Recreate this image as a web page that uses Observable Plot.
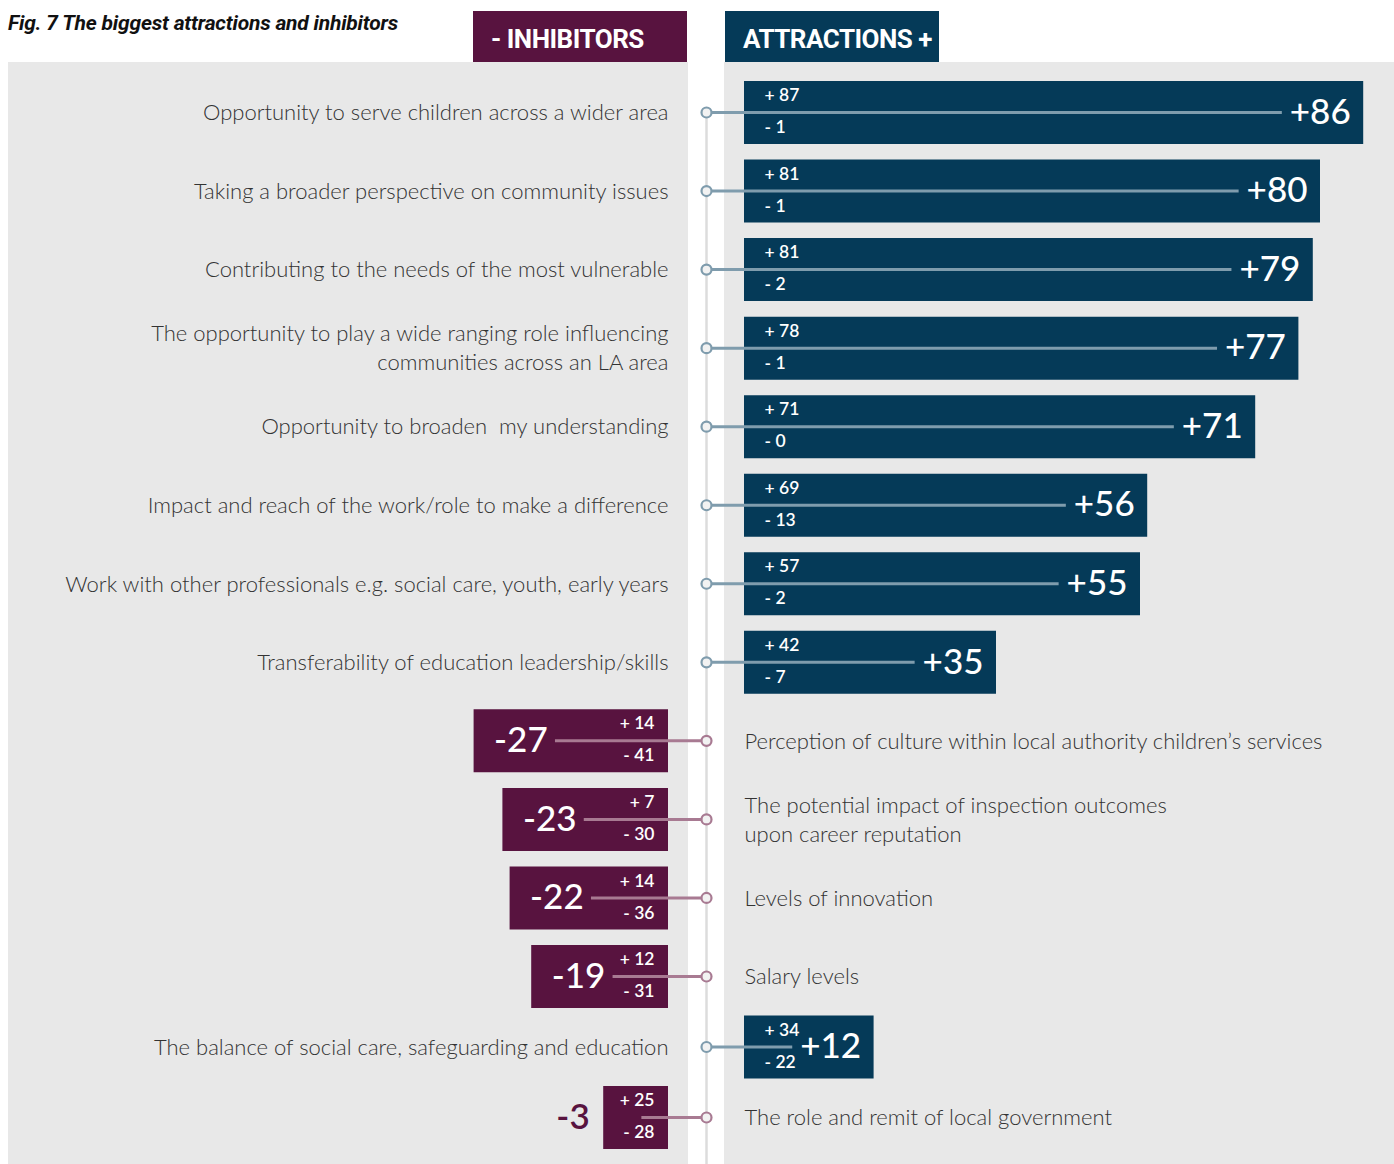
<!DOCTYPE html>
<html><head><meta charset="utf-8">
<script src="https://cdn.jsdelivr.net/npm/d3@7"></script>
<script src="https://cdn.jsdelivr.net/npm/@observablehq/plot@0.6"></script>
<style>
body{margin:0;background:#fff;width:1394px;height:1164px;position:relative;overflow:hidden;font-family:Lato,"Open Sans",sans-serif;}
.panel{position:absolute;background:#e8e8e8;top:62px;height:1102px;}
.title{position:absolute;left:8px;top:11px;font-family:"Liberation Sans Narrow","Roboto",sans-serif;font-style:italic;font-weight:bold;font-size:21px;letter-spacing:-0.2px;color:#111;}
.hdr{position:absolute;top:11px;height:51px;width:214px;color:#fff;font-family:"Liberation Sans Narrow","Roboto",sans-serif;font-weight:bold;font-size:26px;letter-spacing:-0.5px;line-height:56px;box-sizing:border-box;padding-left:18px;}
#chart{position:absolute;left:0;top:0;}
</style></head>
<body>
<div class="panel" style="left:8px;width:680px"></div>
<div class="panel" style="left:724px;width:670px"></div>
<div class="title">Fig. 7 The biggest attractions and inhibitors</div>
<div class="hdr" style="left:473px;background:#58133f">- INHIBITORS</div>
<div class="hdr" style="left:725px;background:#053a58">ATTRACTIONS +</div>
<div id="chart"></div>
<script>
const categories = [
  "Opportunity to serve children across a wider area",
  "Taking a broader perspective on community issues",
  "Contributing to the needs of the most vulnerable",
  "The opportunity to play a wide ranging role influencing\ncommunities across an LA area",
  "Opportunity to broaden  my understanding",
  "Impact and reach of the work/role to make a difference",
  "Work with other professionals e.g. social care, youth, early years",
  "Transferability of education leadership/skills",
  "Perception of culture within local authority children’s services",
  "The potential impact of inspection outcomes\nupon career reputation",
  "Levels of innovation",
  "Salary levels",
  "The balance of social care, safeguarding and education",
  "The role and remit of local government"
];
const plusVals  = [87, 81, 81, 78, 71, 69, 57, 42, 14, 7, 14, 12, 34, 25];
const minusVals = [1, 1, 2, 1, 0, 13, 2, 7, 41, 30, 36, 31, 22, 28];
const netVals   = [86, 80, 79, 77, 71, 56, 55, 35, -27, -23, -22, -19, 12, -3];

const NAVY = "#053a58", PURPLE = "#58133f";
const LINE_A = "#7f9cad", LINE_I = "#a87a92";
const W = 1394, H = 1164, unit = 7.2, axisX = 706;
const gap = 38 / unit;
const barH = 63;

const rows = categories.map((cat, i) => {
  const net = netVals[i], dir = net >= 0 ? 1 : -1, a = Math.abs(net);
  const inside = a >= 10;
  const len = inside ? Math.max(a, 18) : 9;
  const lineLen = inside ? gap + len - 11.3 : gap + len - 5.3;
  return {i, cat, plus: plusVals[i], minus: minusVals[i], net, dir, inside, len, lineLen};
});
const att = rows.filter(d => d.dir > 0), inh = rows.filter(d => d.dir < 0);
const fmtNet = v => (v > 0 ? "+" : "") + v;

const smallFont = {fontSize: 17.5, fontWeight: 600, fill: "white", fontFamily: "Lato, sans-serif"};
const bigFont = {fontSize: 35, fontWeight: 500, fontFamily: "Lato, sans-serif"};
const catFont = {fontSize: 22, fontWeight: 300, fill: "#333", fontFamily: "Lato, sans-serif", lineHeight: 1.32};

const chart = Plot.plot({
  width: W, height: H,
  marginTop: 0, marginBottom: 0, marginLeft: 0, marginRight: 0,
  x: {type: "linear", domain: [-axisX / unit, (W - axisX) / unit], range: [0, W], axis: null},
  y: {type: "linear", domain: [0, 11, 13], range: [112, 976, 1117], axis: null},
  style: {background: "transparent"},
  marks: [
    Plot.ruleX([0], {y1: 0, y2: 14, stroke: "#dcdcdc", strokeWidth: 2.5}),
    Plot.ruleY(att, {y: "i", x1: gap, x2: d => gap + d.len, stroke: NAVY, strokeWidth: barH, strokeLinecap: "butt"}),
    Plot.ruleY(inh, {y: "i", x1: -gap, x2: d => -(gap + d.len), stroke: PURPLE, strokeWidth: barH, strokeLinecap: "butt"}),
    Plot.ruleY(att, {y: "i", x1: 0, x2: d => d.lineLen, stroke: LINE_A, strokeWidth: 3}),
    Plot.ruleY(inh, {y: "i", x1: 0, x2: d => -d.lineLen, stroke: LINE_I, strokeWidth: 3}),
    Plot.dot(att, {x: 0, y: "i", r: 5, fill: "#f2f2f2", stroke: LINE_A, strokeWidth: 2.2}),
    Plot.dot(inh, {x: 0, y: "i", r: 5, fill: "#f2f2f2", stroke: LINE_I, strokeWidth: 2.2}),
    // small +/- labels
    Plot.text(att, {x: gap, y: "i", text: d => "+ " + d.plus, dx: 20, dy: -17, textAnchor: "start", ...smallFont}),
    Plot.text(att, {x: gap, y: "i", text: d => "- " + d.minus, dx: 20, dy: 15, textAnchor: "start", ...smallFont}),
    Plot.text(inh, {x: -gap, y: "i", text: d => "+ " + d.plus, dx: -14, dy: -17, textAnchor: "end", ...smallFont}),
    Plot.text(inh, {x: -gap, y: "i", text: d => "- " + d.minus, dx: -14, dy: 15, textAnchor: "end", ...smallFont}),
    // big net labels
    Plot.text(att, {x: d => gap + d.len, y: "i", text: d => fmtNet(d.net), dx: -13, dy: 0, textAnchor: "end", fill: "white", ...bigFont}),
    Plot.text(inh.filter(d => d.inside), {x: d => -(gap + d.len), y: "i", text: d => fmtNet(d.net), dx: 20, dy: 0, textAnchor: "start", fill: "white", ...bigFont}),
    Plot.text(inh.filter(d => !d.inside), {x: d => -(gap + d.len), y: "i", text: d => fmtNet(d.net), dx: -14, dy: 0, textAnchor: "end", fill: PURPLE, ...bigFont, fontWeight: 600}),
    // category labels
    Plot.text(att, {x: -gap, y: "i", text: "cat", textAnchor: "end", dy: -1.5, ...catFont}),
    Plot.text(inh, {x: gap, y: "i", text: "cat", textAnchor: "start", dy: -1.5, ...catFont})
  ]
});
document.getElementById("chart").appendChild(chart);
</script>
</body></html>
